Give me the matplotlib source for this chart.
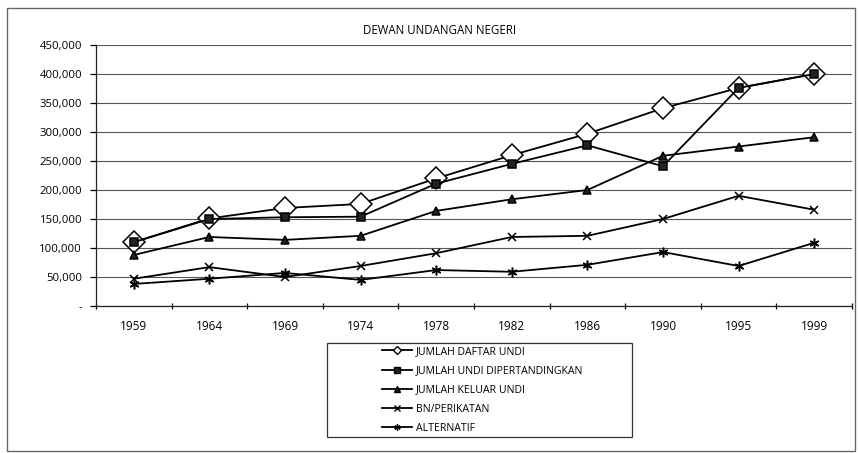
import matplotlib
matplotlib.use('Agg')
import matplotlib.pyplot as plt
from matplotlib.patches import Rectangle
from matplotlib.lines import Line2D
from matplotlib.ticker import FuncFormatter, FixedLocator

plt.rcParams['font.family'] = ['Open Sans', 'DejaVu Sans']

years = ['1959', '1964', '1969', '1974', '1978', '1982', '1986', '1990', '1995', '1999']
daftar_undi = [110000, 151000, 169000, 176000, 220000, 260000, 297000, 341000, 376000, 400000]
undi_dipertandingkan = [110000, 150000, 153000, 154000, 211000, 245000, 277000, 241000, 376000, 400000]
keluar_undi = [88000, 119000, 114000, 121000, 164000, 184000, 200000, 259000, 275000, 291000]
bn_perikatan = [47000, 67000, 50000, 69000, 91000, 119000, 121000, 150000, 190000, 166000]
alternatif = [38000, 47000, 57000, 45000, 62000, 59000, 71000, 93000, 69000, 109000]

series = [
    ('JUMLAH DAFTAR UNDI', daftar_undi, 'D', 11, 'white', 3),
    ('JUMLAH UNDI DIPERTANDINGKAN', undi_dipertandingkan, 's', 5.5, '#222222', 4),
    ('JUMLAH KELUAR UNDI', keluar_undi, '^', 6, '#222222', 4),
    ('BN/PERIKATAN', bn_perikatan, 'x', 6, '#222222', 4),
    ('ALTERNATIF', alternatif, (6, 2, 0), 7, '#222222', 4),
]

fig = plt.figure(figsize=(8.59, 4.53), dpi=100)
ax = fig.add_axes([96/859, 1-306/453, (852-96)/859, (306-45)/453])

x = list(range(len(years)))
handles = []
for label, vals, mk, ms, fc, z in series:
    ax.plot(x, vals, color='black', lw=1.3, marker=mk, markersize=ms,
            markerfacecolor=fc, markeredgewidth=1.1, zorder=z)
    handles.append(Line2D([], [], color='black', lw=1.3, marker=mk,
                          markersize=4.5 if mk != 'D' else 4, markerfacecolor=fc,
                          markeredgewidth=1.0, label=label))

ax.set_xlim(-0.5, len(years) - 0.5)
ax.set_ylim(0, 450000)
ax.set_yticks(range(0, 450001, 50000))
ax.yaxis.set_major_formatter(FuncFormatter(lambda v, p: '-' if v == 0 else f'{int(v):,}'))
ax.grid(axis='y', color='#555555', lw=0.8)
ax.set_axisbelow(True)

ax.set_xticks(x)
ax.set_xticklabels(years)
ax.xaxis.set_minor_locator(FixedLocator([i - 0.5 for i in range(len(years) + 1)]))
ax.tick_params(axis='x', which='major', length=0, pad=10, labelsize=8.5)
ax.tick_params(axis='x', which='minor', length=5, direction='inout', width=0.9)
ax.tick_params(axis='y', length=4, direction='out', width=0.9, labelsize=8.2, pad=6)

for side in ['top', 'right']:
    ax.spines[side].set_visible(False)
for side in ['left', 'bottom']:
    ax.spines[side].set_color('#222222')
    ax.spines[side].set_linewidth(0.9)

fig.text(440/859, 1-30/453, 'DEWAN UNDANGAN NEGERI', ha='center', va='center', fontsize=8.3)

# legend box drawn separately, entries placed inside it
fig.patches.append(Rectangle((327/859, 1-437/453), 305/859, 94/453, transform=fig.transFigure,
                             fill=False, edgecolor='#333333', lw=0.9))
fig.legend(handles=handles, loc='upper left', bbox_to_anchor=(382/859, 1-346/453),
           fontsize=7.6, frameon=False, handlelength=2.8, labelspacing=0.78,
           borderpad=0, borderaxespad=0, handletextpad=0.4)

fig.patches.append(Rectangle((7/859, 1-451/453), 848/859, 443/453, transform=fig.transFigure,
                             fill=False, edgecolor='#666666', lw=1.0))

fig.savefig('out.png', dpi=100)
